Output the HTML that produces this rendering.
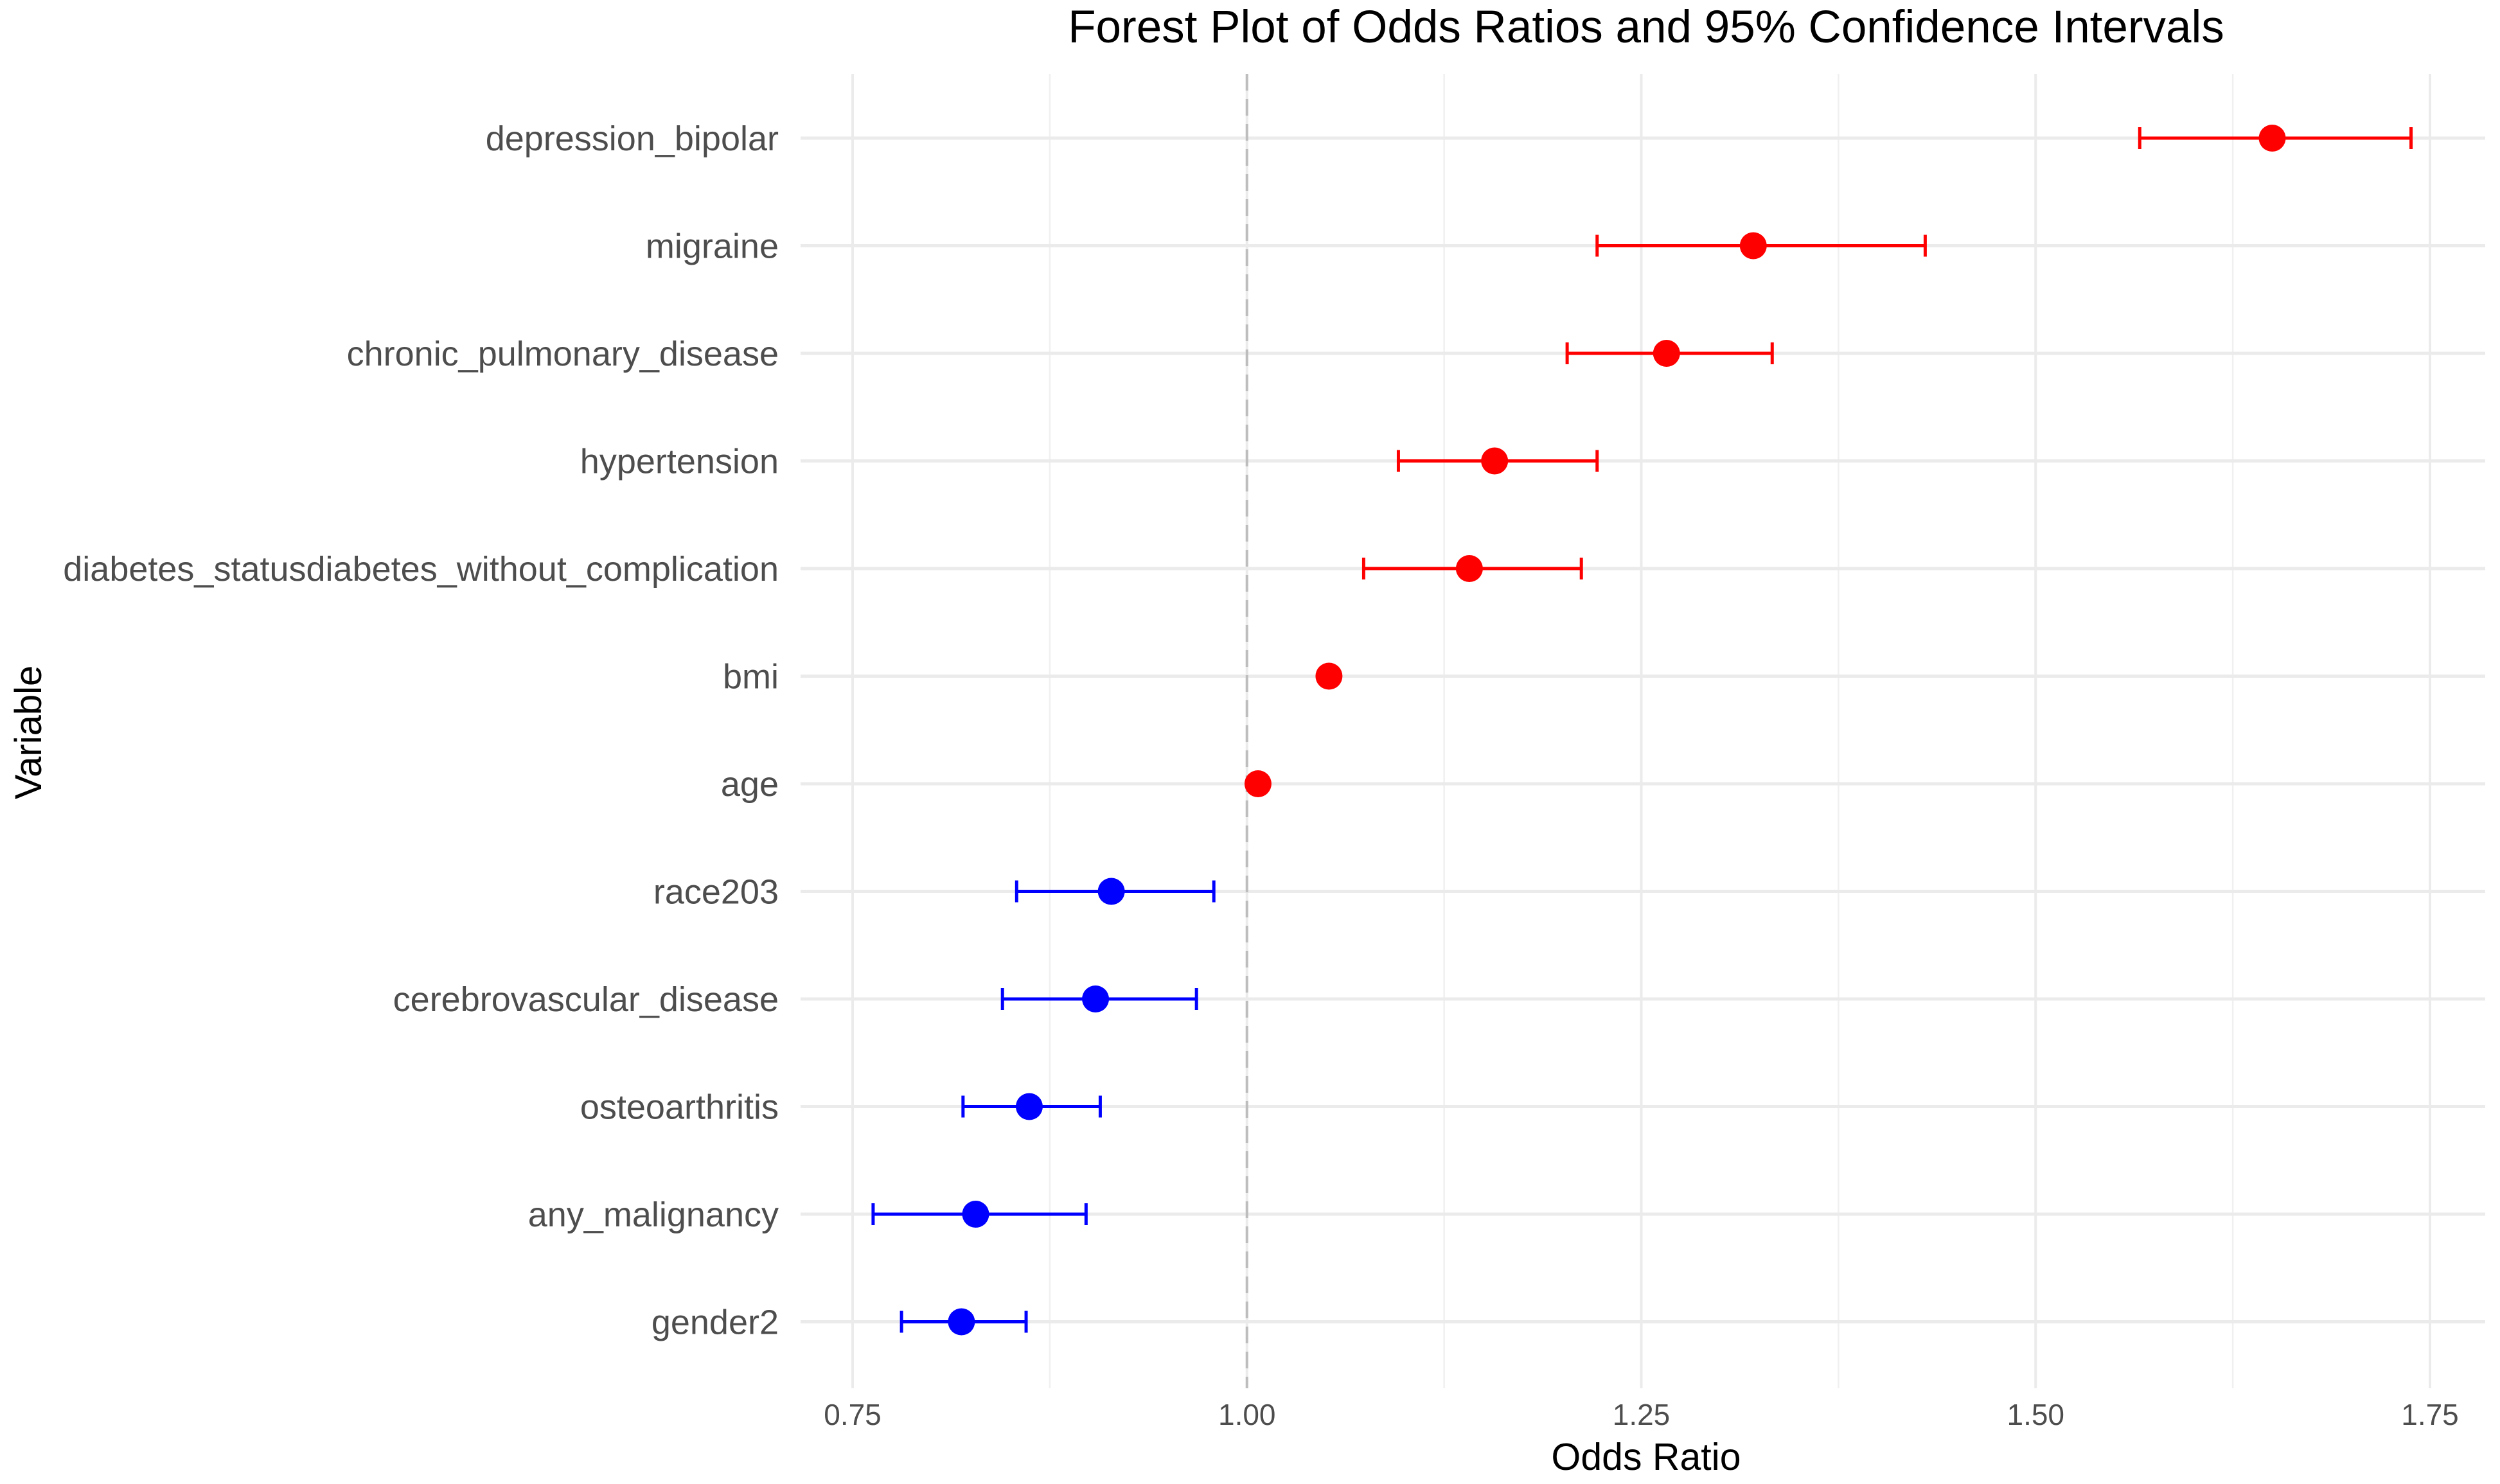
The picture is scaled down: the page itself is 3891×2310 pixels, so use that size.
<!DOCTYPE html>
<html><head><meta charset="utf-8">
<style>
html,body{margin:0;padding:0;background:#fff;}
svg{display:block;font-family:"Liberation Sans",Arial,sans-serif;}
</style></head>
<body>
<svg id="chart" width="3891" height="2310" viewBox="0 0 3891 2310" xmlns="http://www.w3.org/2000/svg">
<rect width="3891" height="2310" fill="#fff"/>
<text x="2562" y="66" font-size="71" text-anchor="middle" fill="#000">Forest Plot of Odds Ratios and 95% Confidence Intervals</text>
<g id="grid"></g>
<g id="refline"></g>
<g id="marks"></g>
<g id="ylabels"></g>
<g id="xlabels"></g>
<text x="2562" y="2288" font-size="59" text-anchor="middle" fill="#000">Odds Ratio</text>
<text transform="translate(64,1140) rotate(-90)" font-size="58" text-anchor="middle" fill="#000">Variable</text>
</svg>
<script>
const categories = ["depression_bipolar","migraine","chronic_pulmonary_disease","hypertension","diabetes_statusdiabetes_without_complication","bmi","age","race203","cerebrovascular_disease","osteoarthritis","any_malignancy","gender2"];
const oddsRatio = [1.650,1.321,1.266,1.157,1.141,1.052,1.007,0.914,0.904,0.862,0.828,0.819];
const ciLow = [1.566,1.222,1.203,1.096,1.074,1.048,1.005,0.854,0.845,0.820,0.763,0.781];
const ciHigh = [1.738,1.430,1.333,1.222,1.212,1.056,1.009,0.979,0.968,0.907,0.898,0.860];
const xTicks = [0.75,1.00,1.25,1.50,1.75];
const xTickLabels = ["0.75","1.00","1.25","1.50","1.75"];
const xMinor = [0.875,1.125,1.375,1.625];

const NS="http://www.w3.org/2000/svg";
const panelL=1246, panelR=3868, panelT=115, panelB=2161;
function xScale(v){return 1327+(v-0.75)*2455;}
function yScale(i){return 215+i*167.5;}
function mk(tag,attrs,parent){const e=document.createElementNS(NS,tag);for(const k in attrs)e.setAttribute(k,attrs[k]);parent.appendChild(e);return e;}

const grid=document.getElementById('grid');
xMinor.forEach(v=>{
  const l=mk('line',{x1:xScale(v),x2:xScale(v),y1:panelT,y2:panelB,stroke:'#f0f0f0','stroke-width':2.5},grid);
  
  
});
xTicks.forEach(v=>{
  const l=mk('line',{x1:xScale(v),x2:xScale(v),y1:panelT,y2:panelB,stroke:'#ebebeb','stroke-width':4},grid);
  
  
});
categories.forEach((c,i)=>{
  const l=mk('line',{x1:panelL,x2:panelR,y1:yScale(i),y2:yScale(i),stroke:'#ebebeb','stroke-width':5},grid);
  
  
});

const ref=mk('line',{x1:xScale(1),x2:xScale(1),y1:panelT,y2:panelB,stroke:'#bdbdbd','stroke-width':4,'stroke-dasharray':'26 13'},document.getElementById('refline'));



const marks=document.getElementById('marks');
categories.forEach((c,i)=>{
  const col = oddsRatio[i]>1 ? '#ff0000' : '#0000ff';
  const y=yScale(i), x0=xScale(ciLow[i]), x1=xScale(ciHigh[i]);
  const g=mk('g',{},marks);
  
  
  mk('line',{x1:x0,x2:x1,y1:y,y2:y,stroke:col,'stroke-width':5},g);
  mk('line',{x1:x0,x2:x0,y1:y-17,y2:y+17,stroke:col,'stroke-width':5},g);
  mk('line',{x1:x1,x2:x1,y1:y-17,y2:y+17,stroke:col,'stroke-width':5},g);
  const p=mk('circle',{cx:xScale(oddsRatio[i]),cy:y,r:21,fill:col},g);
  
  
});

const yl=document.getElementById('ylabels');
categories.forEach((c,i)=>{
  const t=mk('text',{x:1212,y:yScale(i)+19,'font-size':54,'text-anchor':'end',fill:'#4d4d4d'},yl);
  t.textContent=c;
  
  
});
const xl=document.getElementById('xlabels');
xTicks.forEach((v,i)=>{
  const t=mk('text',{x:xScale(v),y:2218,'font-size':46,'text-anchor':'middle',fill:'#4d4d4d'},xl);
  t.textContent=xTickLabels[i];
  
  
});
</script>
</body></html>
